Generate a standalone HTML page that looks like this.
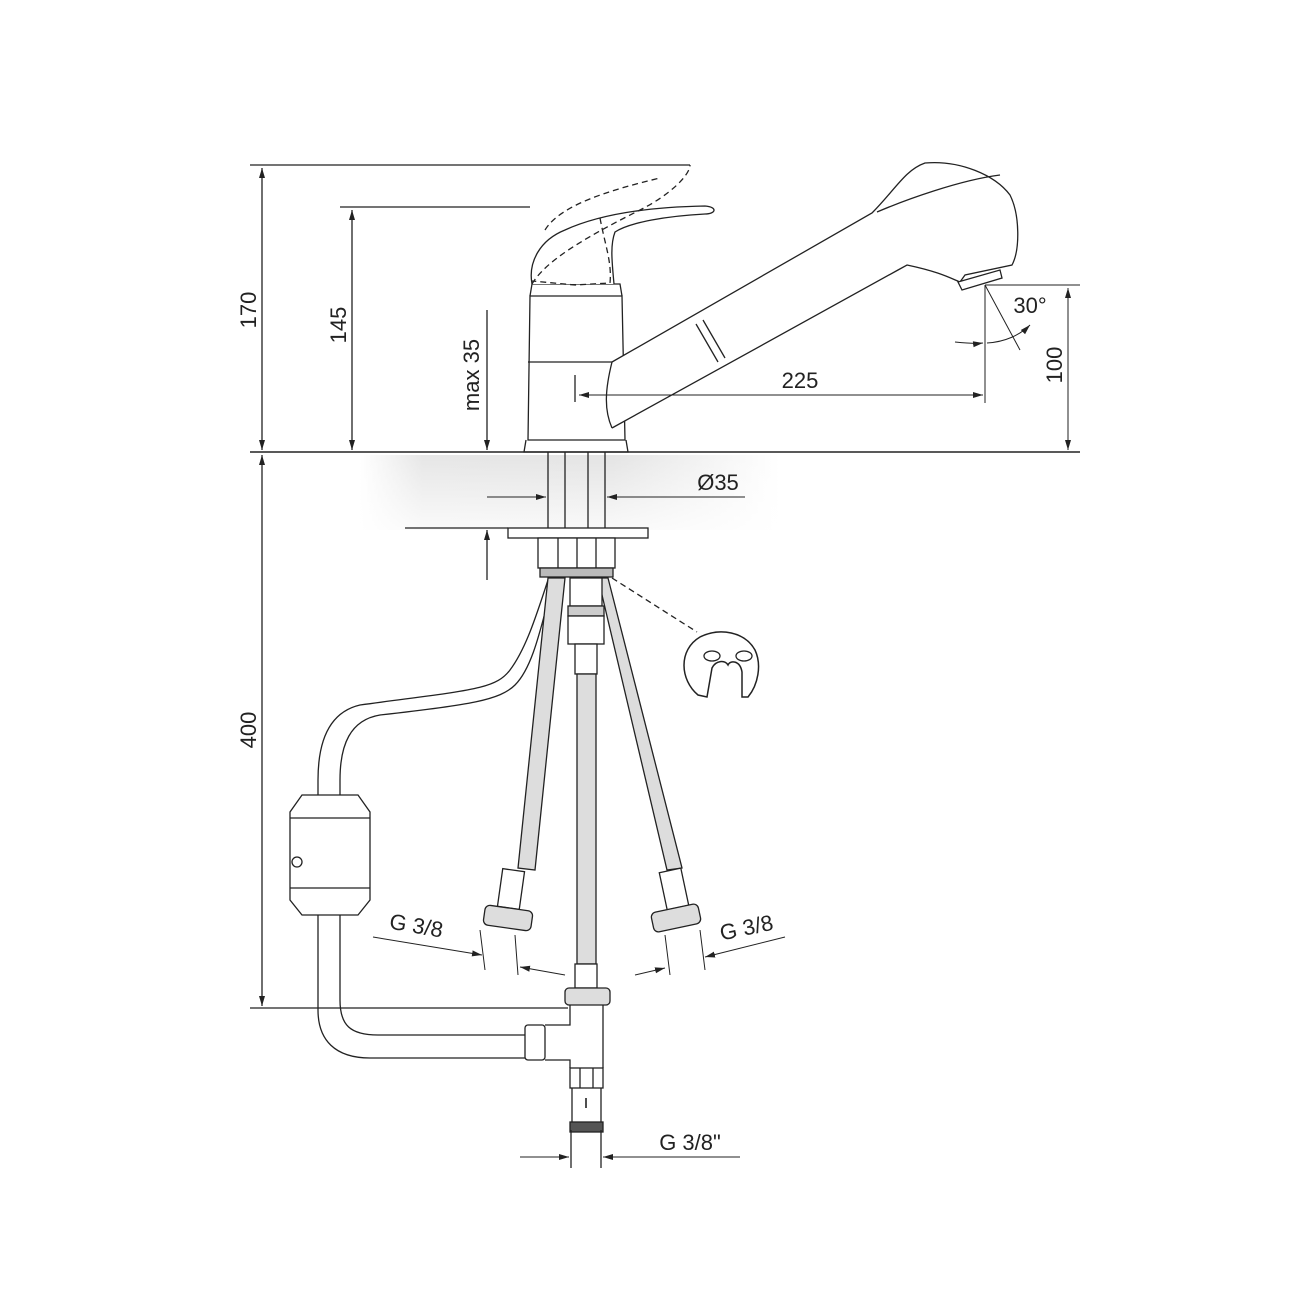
<!DOCTYPE html>
<html><head><style>html,body{margin:0;padding:0;background:#fff}svg{display:block}</style></head>
<body>
<svg width="1300" height="1300" viewBox="0 0 1300 1300" xmlns="http://www.w3.org/2000/svg" font-family="Liberation Sans, sans-serif">
<defs>
<linearGradient id="g" x1="0" x2="1">
<stop offset="0" stop-color="#fff"/><stop offset="0.15" stop-color="#e6e6e6"/><stop offset="0.6" stop-color="#e4e4e4"/><stop offset="1" stop-color="#fff"/></linearGradient>
<linearGradient id="gv" x1="0" y1="0" x2="0" y2="1"><stop offset="0" stop-color="#fff" stop-opacity="0"/><stop offset="1" stop-color="#fff" stop-opacity="0.8"/></linearGradient>
<marker id="a" viewBox="0 0 10 10" refX="10" refY="5" markerWidth="10" markerHeight="10" orient="auto-start-reverse" markerUnits="userSpaceOnUse"><path d="M0,2 L10,5 L0,8z" fill="#222"/></marker>
</defs>
<g stroke="#222" fill="none" stroke-width="1.3">
<!-- counter band -->
<rect x="360" y="455" width="420" height="75" fill="url(#g)" stroke="none"/>
<rect x="360" y="455" width="420" height="75" fill="url(#gv)" stroke="none"/>
<line x1="250" y1="452" x2="1080" y2="452" stroke-width="1.6"/>
<!-- 170 -->
<line x1="250" y1="165" x2="690" y2="165"/>
<line x1="262" y1="168" x2="262" y2="450" marker-start="url(#a)" marker-end="url(#a)"/>
<!-- 145 -->
<line x1="340" y1="207" x2="530" y2="207"/>
<line x1="352" y1="210" x2="352" y2="450" marker-start="url(#a)" marker-end="url(#a)"/>
<!-- max35 -->
<line x1="487" y1="310" x2="487" y2="450" marker-end="url(#a)"/>
<line x1="487" y1="580" x2="487" y2="530" marker-end="url(#a)"/>
<line x1="405" y1="528" x2="508" y2="528"/>
<!-- 400 -->
<line x1="262" y1="455" x2="262" y2="1006" marker-start="url(#a)" marker-end="url(#a)"/>
<line x1="250" y1="1008" x2="568" y2="1008"/>
<!-- body -->
<path d="M530,296 L528,440 L625,440 L622,296 Z" fill="#fff"/>
<line x1="528" y1="362" x2="622" y2="362"/>
<path d="M526,440 L524,452 L628,452 L626,440"/>
<path d="M530,296 L532,284 L620,284 L622,296"/>
<!-- handle -->
<path d="M532,284 C528,262 540,240 565,230 C600,214 650,207 705,206 C718,207 716,214 705,214 C668,216 630,222 615,232 C610,245 612,262 614,284" fill="#fff"/>
<path d="M532,284 C545,262 580,240 640,210 C670,195 690,175 690,165" stroke-dasharray="6,4"/>
<path d="M545,230 C560,205 610,190 660,178" stroke-dasharray="6,4"/>
<path d="M600,218 C605,245 612,262 610,283 L575,285 L532,281" stroke-dasharray="6,4"/>
<!-- spout -->
<path d="M612,362 L872,213 C895,190 905,170 925,163 C960,160 995,175 1010,195 C1020,215 1020,250 1012,265 L965,275 L960,282 C950,278 940,272 907,265 L898,270 L612,428" fill="#fff"/>
<path d="M612,362 C605,390 604,410 612,428"/>
<path d="M877,212 C905,200 960,180 1000,175" />
<path d="M958,282 L1000,270 L1002,278 L962,290 Z" fill="#fff"/>
<line x1="696" y1="324" x2="718" y2="362"/><line x1="703" y1="320" x2="725" y2="358"/>
<!-- 225 -->
<line x1="575" y1="375" x2="575" y2="402"/>
<line x1="579" y1="395" x2="983" y2="395" marker-start="url(#a)" marker-end="url(#a)" stroke-width="1"/>
<line x1="985" y1="285" x2="985" y2="403" stroke-width="1"/>
<!-- 100 / 30 -->
<line x1="985" y1="285" x2="1080" y2="285" stroke-width="1"/>
<line x1="1068" y1="288" x2="1068" y2="450" marker-start="url(#a)" marker-end="url(#a)" stroke-width="1"/>
<line x1="985" y1="285" x2="1020" y2="350" stroke-width="1"/>
<path d="M955,342 C965,343 975,344 983,343" stroke-width="1" marker-end="url(#a)"/>
<path d="M987,343 C1005,342 1020,335 1030,325" stroke-width="1" marker-end="url(#a)"/>
<!-- Ø35 -->
<line x1="487" y1="497" x2="546" y2="497" marker-end="url(#a)" stroke-width="1"/>
<line x1="745" y1="497" x2="607" y2="497" marker-end="url(#a)" stroke-width="1"/>
<line x1="548" y1="452" x2="548" y2="528"/><line x1="565" y1="452" x2="565" y2="528"/>
<line x1="588" y1="452" x2="588" y2="528"/><line x1="605" y1="452" x2="605" y2="528"/>
<rect x="508" y="528" width="140" height="10" fill="#fff"/>
<rect x="538" y="538" width="77" height="30" fill="#fff"/>
<line x1="558" y1="538" x2="558" y2="568"/><line x1="577" y1="538" x2="577" y2="568"/><line x1="596" y1="538" x2="596" y2="568"/>
<rect x="540" y="568" width="73" height="9" fill="#bbb"/>
<line x1="612" y1="578" x2="697" y2="632" stroke-dasharray="6,4"/>
<!-- clip -->
<path d="M698,695 C680,680 678,650 700,637 C720,627 745,632 755,650 C762,665 758,685 748,697 L742,697 L742,672 C740,660 730,660 728,665 C725,660 716,660 712,668 L707,697 Z" fill="#fff" stroke-width="1.5"/>
<ellipse cx="712" cy="656" rx="8" ry="5"/><ellipse cx="744" cy="656" rx="8" ry="5"/>
<!-- shower hose -->
<path d="M548,580 C535,620 525,650 510,670 C495,690 470,690 360,705 C330,712 318,740 318,780 L318,1010 C318,1040 335,1058 370,1058 L525,1058"/>
<path d="M547,605 C538,640 530,670 515,685 C500,700 470,705 380,715 C350,720 340,745 340,780 L340,1000 C340,1025 350,1035 378,1035 L525,1035"/>
<path d="M302,795 L358,795 L370,812 L370,900 L358,915 L302,915 L290,900 L290,812 Z" fill="#fff"/>
<line x1="290" y1="818" x2="370" y2="818"/><line x1="290" y1="888" x2="370" y2="888"/>
<circle cx="297" cy="862" r="5"/>
<!-- left hose -->
<path d="M548,578 L565,578 L535,870 L518,868 Z" fill="#ddd"/>
<rect x="500" y="870" width="22" height="38" fill="#fff" transform="rotate(8 511 889)"/>
<rect x="484" y="908" width="48" height="20" rx="5" fill="#ddd" transform="rotate(8 508 918)"/>
<!-- right hose -->
<path d="M598,578 L608,578 L682,868 L667,870 Z" fill="#ddd"/>
<rect x="663" y="870" width="22" height="38" fill="#fff" transform="rotate(-12 674 889)"/>
<rect x="652" y="908" width="48" height="20" rx="5" fill="#ddd" transform="rotate(-12 676 918)"/>
<!-- center -->
<rect x="570" y="578" width="32" height="28" fill="#fff"/>
<rect x="568" y="606" width="36" height="10" fill="#ccc"/>
<rect x="568" y="616" width="36" height="28" fill="#fff"/>
<rect x="575" y="644" width="22" height="30" fill="#fff"/>
<rect x="577" y="674" width="19" height="290" fill="#ddd"/>
<rect x="575" y="964" width="22" height="24" fill="#fff"/>
<rect x="565" y="988" width="45" height="17" rx="4" fill="#ddd"/>
<path d="M570,1005 L570,1025 L545,1025 M545,1060 L570,1060 L570,1068 M603,1005 L603,1068"/>
<rect x="525" y="1025" width="20" height="35" rx="3" fill="#fff"/>
<rect x="570" y="1068" width="33" height="20" fill="#fff"/>
<line x1="580" y1="1068" x2="580" y2="1088"/><line x1="593" y1="1068" x2="593" y2="1088"/>
<path d="M572,1088 L572,1130 M601,1088 L601,1130"/>
<rect x="570" y="1122" width="33" height="10" fill="#555"/>
<line x1="586" y1="1098" x2="586" y2="1108" stroke-width="1.6"/>
<line x1="571" y1="1130" x2="571" y2="1168"/><line x1="601" y1="1130" x2="601" y2="1168"/>
<line x1="520" y1="1157" x2="569" y2="1157" marker-end="url(#a)" stroke-width="1"/>
<line x1="740" y1="1157" x2="603" y2="1157" marker-end="url(#a)" stroke-width="1"/>
<!-- G3/8 dims -->
<line x1="373" y1="937" x2="482" y2="955" marker-end="url(#a)" stroke-width="1"/>
<line x1="565" y1="975" x2="520" y2="967" marker-end="url(#a)" stroke-width="1"/>
<line x1="480" y1="930" x2="485" y2="970" stroke-width="1"/><line x1="515" y1="935" x2="518" y2="975" stroke-width="1"/>
<line x1="635" y1="975" x2="665" y2="968" marker-end="url(#a)" stroke-width="1"/>
<line x1="785" y1="937" x2="705" y2="957" marker-end="url(#a)" stroke-width="1"/>
<line x1="665" y1="935" x2="670" y2="975" stroke-width="1"/><line x1="700" y1="930" x2="705" y2="970" stroke-width="1"/>
</g>
<g fill="#222" font-size="22">
<text transform="translate(262,310) rotate(-90)" text-anchor="middle" dy="-6">170</text>
<text transform="translate(352,325) rotate(-90)" text-anchor="middle" dy="-6">145</text>
<text transform="translate(487,375) rotate(-90)" text-anchor="middle" dy="-8">max 35</text>
<text transform="translate(262,730) rotate(-90)" text-anchor="middle" dy="-6">400</text>
<text transform="translate(1068,365) rotate(-90)" text-anchor="middle" dy="-6">100</text>
<text x="800" y="388" text-anchor="middle">225</text>
<text x="1030" y="313" text-anchor="middle">30°</text>
<text x="718" y="490" text-anchor="middle">Ø35</text>
<text x="690" y="1150" text-anchor="middle">G 3/8"</text>
<text transform="translate(415,933) rotate(10)" text-anchor="middle">G 3/8</text>
<text transform="translate(748,935) rotate(-12)" text-anchor="middle">G 3/8</text>
</g>
</svg>
</body></html>
